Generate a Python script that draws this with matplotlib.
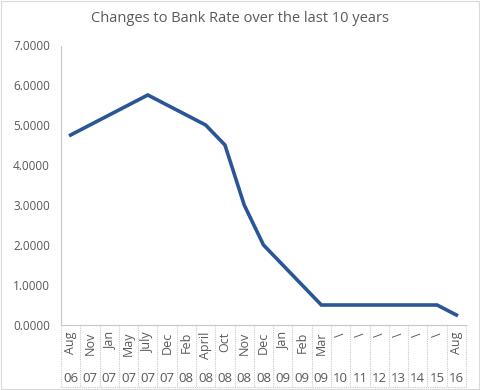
import matplotlib

matplotlib.use("Agg")
import matplotlib.pyplot as plt
from matplotlib.transforms import blended_transform_factory

# Bank Rate (%) at each change point
months = ["Aug", "Nov", "Jan", "May", "July", "Dec", "Feb", "April", "Oct", "Nov",
          "Dec", "Jan", "Feb", "Mar", "\\", "\\", "\\", "\\", "\\", "\\", "Aug"]
years = ["06", "07", "07", "07", "07", "07", "08", "08", "08", "08",
         "08", "09", "09", "09", "10", "11", "12", "13", "14", "15", "16"]
rate = [4.75, 5.0, 5.25, 5.5, 5.75, 5.5, 5.25, 5.0, 4.5, 3.0,
        2.0, 1.5, 1.0, 0.5, 0.5, 0.5, 0.5, 0.5, 0.5, 0.5, 0.25]

plt.rcParams["font.family"] = ["Open Sans", "DejaVu Sans"]
TXT = "#595959"
GRID = "#c8c8c8"

fig = plt.figure(figsize=(4.8, 3.9), dpi=100)
ax = fig.add_axes([61 / 480, 1 - 325 / 390, 405 / 480, 280 / 390])

x = list(range(len(rate)))
ax.plot(x, rate, color="#2a5597", linewidth=2.6, solid_joinstyle="miter")

ax.set_xlim(-0.5, len(rate) - 0.5)
ax.set_ylim(0, 7)
ax.set_yticks(range(8))
ax.set_yticklabels([f"{v:.4f}" for v in range(8)], color=TXT, fontsize=8.5)
ax.tick_params(axis="y", length=0, pad=8)

ax.set_xticks(x)
ax.set_xticklabels(months, rotation=90, va="top", ha="center", color=TXT, fontsize=9)
ax.tick_params(axis="x", length=0, pad=5)

for s in ["top", "right"]:
    ax.spines[s].set_visible(False)
ax.spines["left"].set_color(GRID)
ax.spines["left"].set_linestyle((0, (1, 1)))
ax.spines["left"].set_linewidth(0.8)
ax.spines["bottom"].set_color(GRID)
ax.spines["bottom"].set_linewidth(0.8)

# category boxes below the axis
tr = blended_transform_factory(ax.transData, ax.transAxes)
box_bottom = -62 / 280
for b in range(len(rate) + 1):
    ax.plot([b - 0.5, b - 0.5], [0, box_bottom], transform=tr, color=GRID,
            linewidth=0.8, linestyle=(0, (1, 1)), clip_on=False)
ax.plot([-0.5, len(rate) - 0.5], [box_bottom, box_bottom], transform=tr,
        color=GRID, linewidth=0.8, linestyle=(0, (1, 1)), clip_on=False)
for i, yr in enumerate(years):
    ax.text(i, -53 / 280, yr, transform=tr, ha="center", va="center",
            color=TXT, fontsize=9.5)

fig.text(0.5, 1 - 18 / 390, "Changes to Bank Rate over the last 10 years",
         ha="center", va="center", color=TXT, fontsize=10.5)

# outer chart border
fig.patches.append(plt.Rectangle((0.002, 0.002), 0.996, 0.996, transform=fig.transFigure,
                                 fill=False, edgecolor="#d9d9d9", linewidth=0.8))

fig.savefig("out.png", dpi=100)
